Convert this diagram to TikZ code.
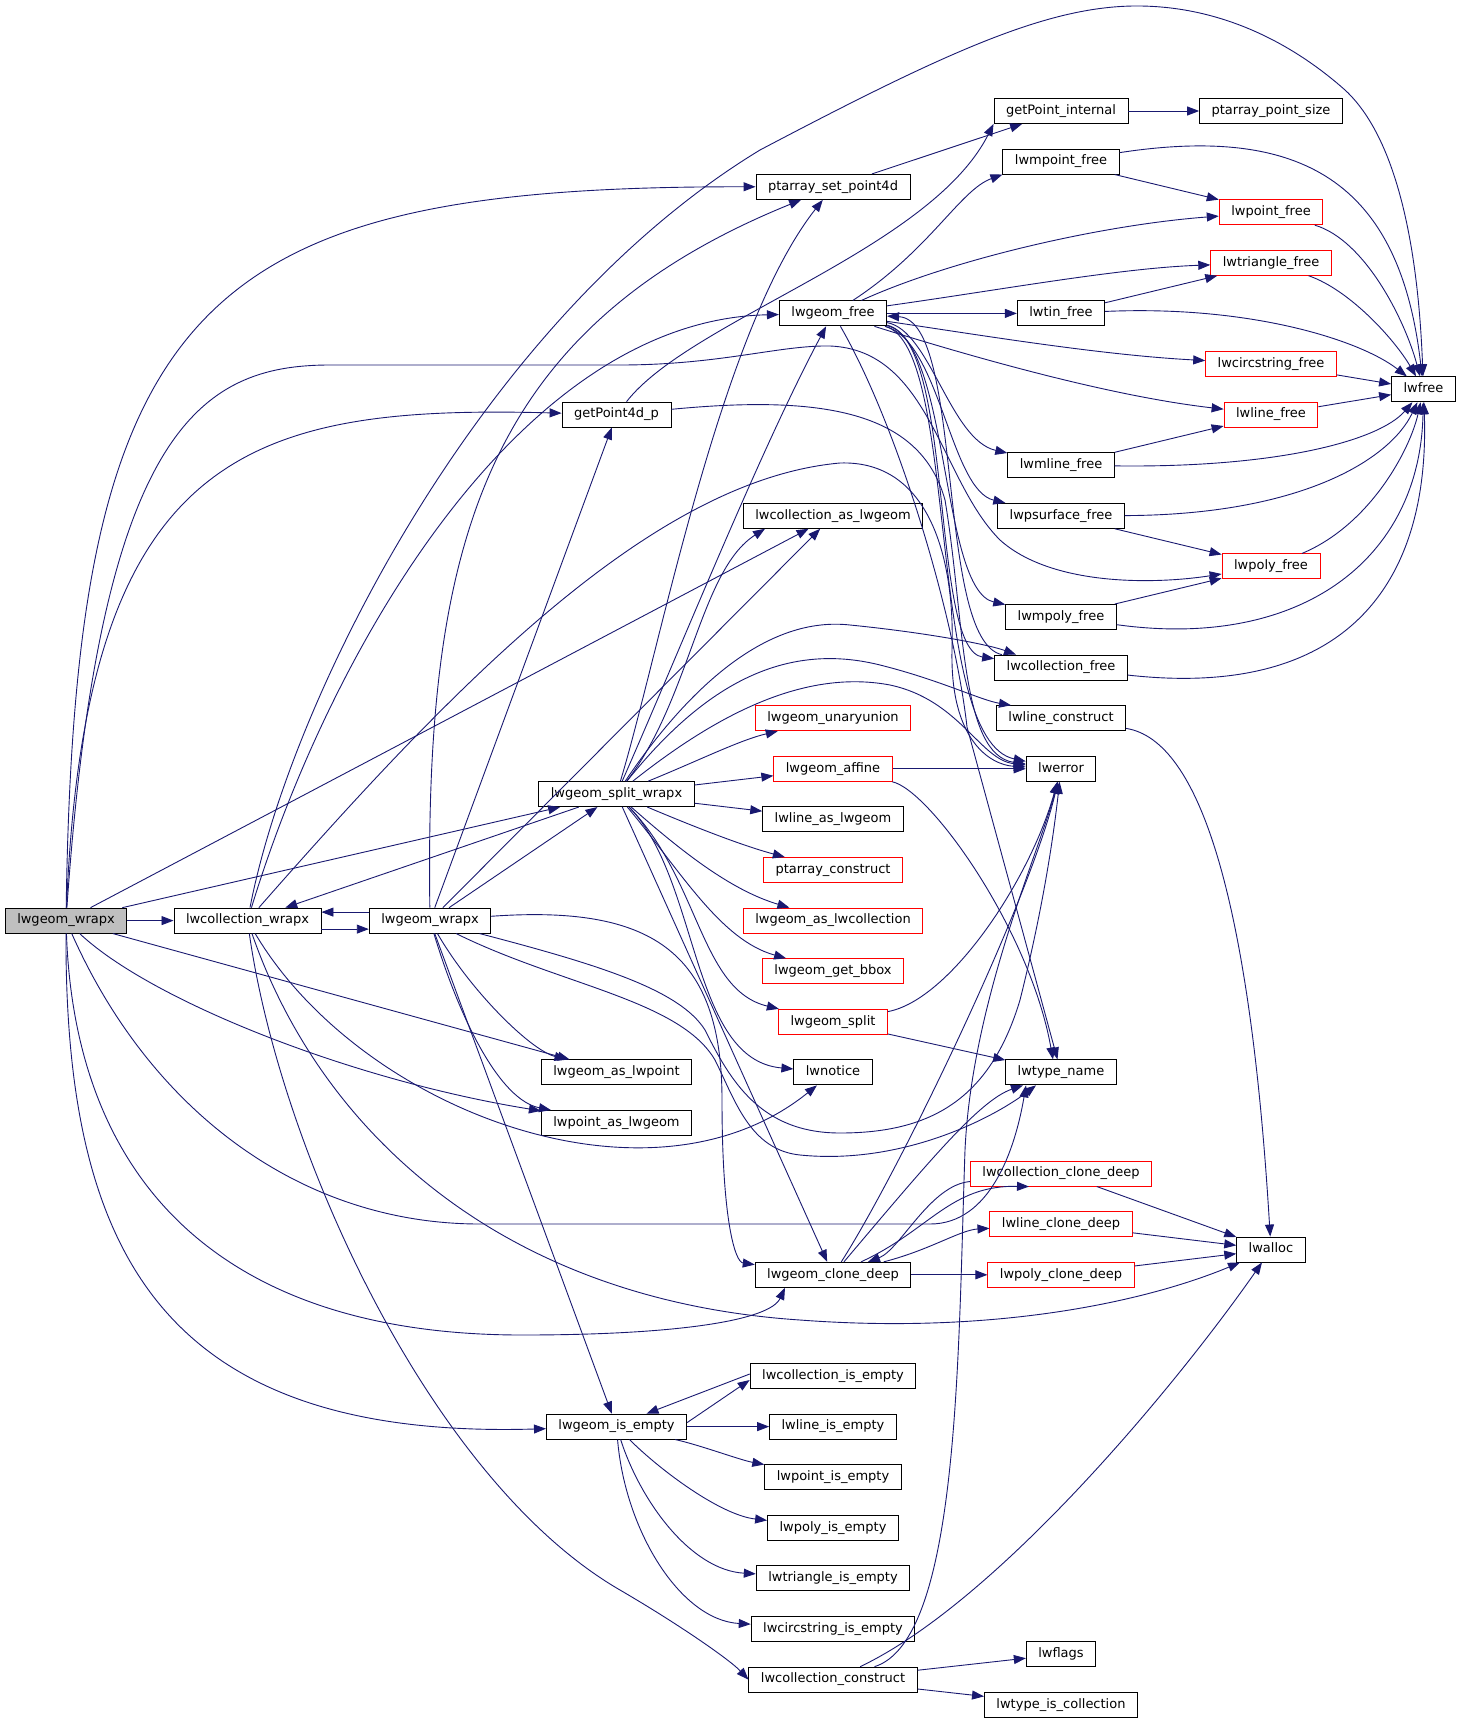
\documentclass[tikz,border=0pt]{standalone}
\usepackage{fontspec}
\setmainfont{DejaVu Sans}
\usetikzlibrary{arrows.meta}
\definecolor{edgeblue}{HTML}{191970}

\begin{document}
\begin{tikzpicture}[x=1pt,y=-1pt,
    fn/.style={draw=black, fill=white, line width=0.9pt, minimum height=25pt,
      inner xsep=12pt, inner ysep=0pt, text height=9.5pt, text depth=3pt,
      font=\fontsize{13pt}{15pt}\selectfont},
    fnred/.style={fn, draw=red},
    fnroot/.style={fn, fill=black!25},
    call/.style={draw=edgeblue, line width=0.9pt, -{Triangle[length=12pt,width=9pt]}}]
    \useasboundingbox (0,0) rectangle (1460,1726);

    \node[fnroot] (wrapx) at (66,920.6) {lwgeom\_wrapx};
    \node[fn] (colwrapx) at (247.5,920.6) {lwcollection\_wrapx};
    \node[fn] (wrapxb) at (430,920.6) {lwgeom\_wrapx};
    \node[fn] (getpt4d) at (616.5,414.6) {getPoint4d\_p};
    \node[fn] (splitwrapx) at (616.5,794.1) {lwgeom\_split\_wrapx};
    \node[fn] (aspoint) at (616.5,1072.4) {lwgeom\_as\_lwpoint};
    \node[fn] (ptasgeom) at (616.5,1123) {lwpoint\_as\_lwgeom};
    \node[fn] (isempty) at (616.5,1426.6) {lwgeom\_is\_empty};
    \node[fn] (setpt4d) at (833,186.9) {ptarray\_set\_point4d};
    \node[fn] (geomfree) at (833,313.4) {lwgeom\_free};
    \node[fn] (colasgeom) at (833,515.8) {lwcollection\_as\_lwgeom};
    \node[fnred] (unaryunion) at (833,718.2) {lwgeom\_unaryunion};
    \node[fnred] (affine) at (833,768.8) {lwgeom\_affine};
    \node[fn] (lineasgeom) at (833,819.4) {lwline\_as\_lwgeom};
    \node[fnred] (ptconstr) at (833,870) {ptarray\_construct};
    \node[fnred] (ascol) at (833,920.6) {lwgeom\_as\_lwcollection};
    \node[fnred] (getbbox) at (833,971.2) {lwgeom\_get\_bbox};
    \node[fnred] (split) at (833,1021.8) {lwgeom\_split};
    \node[fn] (notice) at (833,1072.4) {lwnotice};
    \node[fn] (clonedeep) at (833,1274.8) {lwgeom\_clone\_deep};
    \node[fn] (colempty) at (833,1376) {lwcollection\_is\_empty};
    \node[fn] (lineempty) at (833,1426.6) {lwline\_is\_empty};
    \node[fn] (ptempty) at (833,1477.2) {lwpoint\_is\_empty};
    \node[fn] (polyempty) at (833,1527.8) {lwpoly\_is\_empty};
    \node[fn] (triempty) at (833,1578.4) {lwtriangle\_is\_empty};
    \node[fn] (circempty) at (833,1629) {lwcircstring\_is\_empty};
    \node[fn] (colconstr) at (833,1679.6) {lwcollection\_construct};
    \node[fn] (getptint) at (1061,111) {getPoint\_internal};
    \node[fn] (mptfree) at (1061,161.6) {lwmpoint\_free};
    \node[fn] (tinfree) at (1061,313.4) {lwtin\_free};
    \node[fn] (mlinefree) at (1061,465.2) {lwmline\_free};
    \node[fn] (psurffree) at (1061,515.8) {lwpsurface\_free};
    \node[fn] (mpolyfree) at (1061,617) {lwmpoly\_free};
    \node[fn] (colfree) at (1061,667.6) {lwcollection\_free};
    \node[fn] (lineconstr) at (1061,718.2) {lwline\_construct};
    \node[fn] (error) at (1061,768.8) {lwerror};
    \node[fn] (typename) at (1061,1072.4) {lwtype\_name};
    \node[fnred] (colclone) at (1061,1173.6) {lwcollection\_clone\_deep};
    \node[fnred] (lineclone) at (1061,1224.2) {lwline\_clone\_deep};
    \node[fnred] (polyclone) at (1061,1274.8) {lwpoly\_clone\_deep};
    \node[fn] (flags) at (1061,1654.3) {lwflags};
    \node[fn] (iscol) at (1061,1704.9) {lwtype\_is\_collection};
    \node[fn] (ptsize) at (1271,111) {ptarray\_point\_size};
    \node[fnred] (ptfree) at (1271,212.2) {lwpoint\_free};
    \node[fnred] (trifree) at (1271,262.8) {lwtriangle\_free};
    \node[fnred] (circfree) at (1271,364) {lwcircstring\_free};
    \node[fnred] (linefree) at (1271,414.6) {lwline\_free};
    \node[fnred] (polyfree) at (1271,566.4) {lwpoly\_free};
    \node[fn] (alloc) at (1271,1249.5) {lwalloc};
    \node[fn] (free) at (1423.5,389.3) {lwfree};

    \draw[call] (wrapx) -- (colwrapx);
    \draw[call] (wrapx) .. controls (75,300) and (200,186) .. (setpt4d);
    \draw[call] (wrapx) .. controls (85,450) and (250,405) .. (getpt4d);
    \draw[call] (wrapx) .. controls (100,430) and (200,365) .. (330,365) -- (620,365) .. controls (720,365) and (780,345) .. (830,346) .. controls (930,350) and (940,480) .. (1000,540) .. controls (1050,585) and (1150,585) .. (polyfree);
    \draw[call] (wrapx) -- (colasgeom);
    \draw[call] (wrapx) -- (splitwrapx);
    \draw[call] (wrapx) -- (aspoint);
    \draw[call] (wrapx) .. controls (150,1000) and (350,1080) .. (ptasgeom);
    \draw[call] (wrapx) .. controls (150,1110) and (300,1224) .. (480,1224) -- (930,1224) .. controls (990,1224) and (1015,1150) .. ([xshift=-35pt]typename.south);
    \draw[call] (wrapx) .. controls (75,1180) and (220,1335) .. (522,1335) .. controls (680,1335) and (770,1320) .. ([xshift=-48pt]clonedeep.south);
    \draw[call] (wrapx) .. controls (65,1250) and (160,1440) .. (isempty);

    \draw[call] ([yshift=-8.5pt]colwrapx.east) -- ([yshift=-8.5pt]wrapxb.west);
    \draw[call] ([yshift=8.5pt]wrapxb.west) -- ([yshift=8.5pt]colwrapx.east);
    \draw[call] (colwrapx) .. controls (290,700) and (480,320) .. (760,150) .. controls (950,50) and (1050,5) .. (1140,6) .. controls (1230,7) and (1300,50) .. (1345,90) .. controls (1410,150) and (1420,300) .. (free);
    \draw[call] (colwrapx) .. controls (330,650) and (520,320) .. (geomfree);
    \draw[call] (colwrapx) .. controls (450,690) and (650,480) .. (840,463) .. controls (930,460) and (955,560) .. (952,650) .. controls (950,740) and (990,765) .. (error);
    \draw[call] (colwrapx) .. controls (360,1110) and (650,1220) .. (notice);
    \draw[call] (colwrapx) .. controls (320,1130) and (500,1300) .. (800,1320) .. controls (1000,1335) and (1150,1300) .. (alloc);
    \draw[call] (colwrapx) .. controls (280,1150) and (430,1480) .. (620,1590) .. controls (680,1625) and (730,1660) .. (colconstr.west);

    \draw[call] (wrapxb) .. controls (425,550) and (480,330) .. (setpt4d);
    \draw[call] (wrapxb) -- (getpt4d);
    \draw[call] (wrapxb) -- (colasgeom);
    \draw[call] (wrapxb) -- (splitwrapx);
    \draw[call] (wrapxb) .. controls (470,990) and (530,1050) .. (aspoint);
    \draw[call] (wrapxb) .. controls (460,1020) and (500,1100) .. (ptasgeom);
    \draw[call] (wrapxb) -- (isempty);
    \draw[call] (wrapxb) .. controls (650,905) and (722,950) .. (722,1100) .. controls (722,1220) and (735,1262) .. (clonedeep);
    \draw[call] (wrapxb) .. controls (600,965) and (680,990) .. (705,1030) .. controls (730,1080) and (760,1133) .. (840,1133) .. controls (930,1133) and (990,1100) .. (1020,1000) .. controls (1040,920) and (1052,850) .. (error);
    \draw[call] (wrapxb) .. controls (560,985) and (680,1000) .. (715,1060) .. controls (735,1100) and (750,1150) .. (800,1155) .. controls (900,1165) and (990,1120) .. ([xshift=-25pt]typename.south);

    \draw[call] (splitwrapx) -- (colwrapx);
    \draw[call] (splitwrapx) .. controls (660,650) and (720,330) .. (setpt4d);
    \draw[call] (splitwrapx) .. controls (680,650) and (760,450) .. (geomfree);
    \draw[call] (splitwrapx) .. controls (690,700) and (700,570) .. ([xshift=-68pt]colasgeom.south);
    \draw[call] (splitwrapx) .. controls (680,700) and (760,615) .. (850,625) .. controls (930,633) and (990,645) .. ([xshift=-45pt]colfree.north);
    \draw[call] (splitwrapx) .. controls (700,690) and (780,640) .. (880,665) .. controls (940,680) and (980,700) .. ([xshift=-50pt]lineconstr.north);
    \draw[call] (splitwrapx) .. controls (710,720) and (800,668) .. (890,685) .. controls (960,700) and (980,760) .. (error);
    \draw[call] (splitwrapx) .. controls (700,760) and (740,740) .. (unaryunion);
    \draw[call] (splitwrapx) -- (affine);
    \draw[call] (splitwrapx) -- (lineasgeom);
    \draw[call] (splitwrapx) .. controls (690,825) and (740,845) .. (ptconstr);
    \draw[call] (splitwrapx) .. controls (680,850) and (730,890) .. (ascol);
    \draw[call] (splitwrapx) .. controls (680,870) and (720,940) .. (getbbox);
    \draw[call] (splitwrapx) .. controls (700,880) and (700,990) .. (split);
    \draw[call] (splitwrapx) .. controls (700,880) and (690,1060) .. (notice);
    \draw[call] (splitwrapx) -- (clonedeep);

    \draw[call] (getpt4d) .. controls (690,320) and (930,250) .. (getptint.south west);
    \draw[call] (getpt4d) .. controls (820,395) and (920,410) .. (945,500) .. controls (965,620) and (960,755) .. (error);
    \draw[call] (setpt4d) -- (getptint);
    \draw[call] (getptint) -- (ptsize);

    \draw[call] (geomfree) .. controls (930,250) and (960,190) .. (mptfree.south west);
    \draw[call] (geomfree) .. controls (950,260) and (1100,225) .. (ptfree);
    \draw[call] (geomfree) .. controls (1000,290) and (1120,268) .. (trifree);
    \draw[call] (geomfree) -- (tinfree);
    \draw[call] (geomfree) .. controls (980,335) and (1100,355) .. (circfree);
    \draw[call] (geomfree) .. controls (950,350) and (1100,395) .. (linefree);
    \draw[call] (geomfree) .. controls (930,330) and (950,440) .. (mlinefree);
    \draw[call] (geomfree) .. controls (940,340) and (950,490) .. (psurffree);
    \draw[call] (geomfree) .. controls (950,340) and (940,590) .. (mpolyfree);
    \draw[call] (geomfree) .. controls (955,340) and (930,650) .. (colfree);
    \draw[call] (geomfree) .. controls (960,345) and (925,740) .. (error);
    \draw[call] (geomfree) .. controls (900,430) and (955,620) .. (967,727) -- (typename);
    \draw[call] (colfree) .. controls (935,640) and (965,320) .. (geomfree);

    \draw[call] (mptfree) -- (ptfree);
    \draw[call] (mptfree) .. controls (1300,125) and (1400,180) .. (free);
    \draw[call] (ptfree) .. controls (1365,240) and (1405,320) .. (free);
    \draw[call] (trifree) .. controls (1350,290) and (1395,340) .. (free);
    \draw[call] (tinfree) -- (trifree);
    \draw[call] (tinfree) .. controls (1250,305) and (1360,340) .. (free);
    \draw[call] (circfree) -- (free);
    \draw[call] (linefree) -- (free);
    \draw[call] (mlinefree) -- (linefree);
    \draw[call] (mlinefree) .. controls (1280,468) and (1380,440) .. (free);
    \draw[call] (psurffree) -- (polyfree);
    \draw[call] (psurffree) .. controls (1300,515) and (1390,460) .. (free);
    \draw[call] (polyfree) .. controls (1370,525) and (1410,450) .. (free);
    \draw[call] (mpolyfree) -- (polyfree);
    \draw[call] (mpolyfree) .. controls (1300,650) and (1420,560) .. (free);
    \draw[call] (colfree) .. controls (1350,700) and (1430,580) .. (free);
    \draw[call] (lineconstr) .. controls (1200,740) and (1250,900) .. (alloc);

    \draw[call] (affine) -- (error);
    \draw[call] (affine) .. controls (930,790) and (1030,930) .. ([xshift=-8pt]typename.north);
    \draw[call] (split) .. controls (950,1000) and (1030,880) .. (error);
    \draw[call] (split) -- (typename);

    \draw[call] (clonedeep) .. controls (930,1230) and (950,1185) .. ([xshift=-32pt]colclone.south);
    \draw[call] (colclone) .. controls (930,1185) and (900,1250) .. (clonedeep);
    \draw[call] (clonedeep) .. controls (930,1250) and (960,1230) .. (lineclone);
    \draw[call] (clonedeep) -- (polyclone);
    \draw[call] (clonedeep) .. controls (900,1170) and (1030,900) .. (error);
    \draw[call] (clonedeep) .. controls (930,1160) and (980,1100) .. (typename);
    \draw[call] (colclone) -- (alloc);
    \draw[call] (lineclone) -- (alloc);
    \draw[call] (polyclone) -- (alloc);

    \draw[call] ([yshift=4pt]isempty.east) -- ([yshift=-4pt]colempty.west);
    \draw[call] ([yshift=2pt]colempty.west) -- ([xshift=30pt]isempty.north);
    \draw[call] (isempty) -- (lineempty);
    \draw[call] (isempty) .. controls (700,1445) and (740,1460) .. (ptempty);
    \draw[call] (isempty) .. controls (660,1470) and (720,1515) .. (polyempty);
    \draw[call] (isempty) .. controls (640,1500) and (690,1570) .. (triempty);
    \draw[call] (isempty) .. controls (625,1530) and (680,1620) .. (circempty);

    \draw[call] (colconstr) -- (flags);
    \draw[call] (colconstr) -- (iscol);
    \draw[call] (colconstr) .. controls (1000,1600) and (1180,1380) .. (alloc);
    \draw[call] (colconstr) .. controls (960,1640) and (958,1350) .. (965,1150) .. controls (972,1000) and (1040,850) .. (error);
\end{tikzpicture}
\end{document}
